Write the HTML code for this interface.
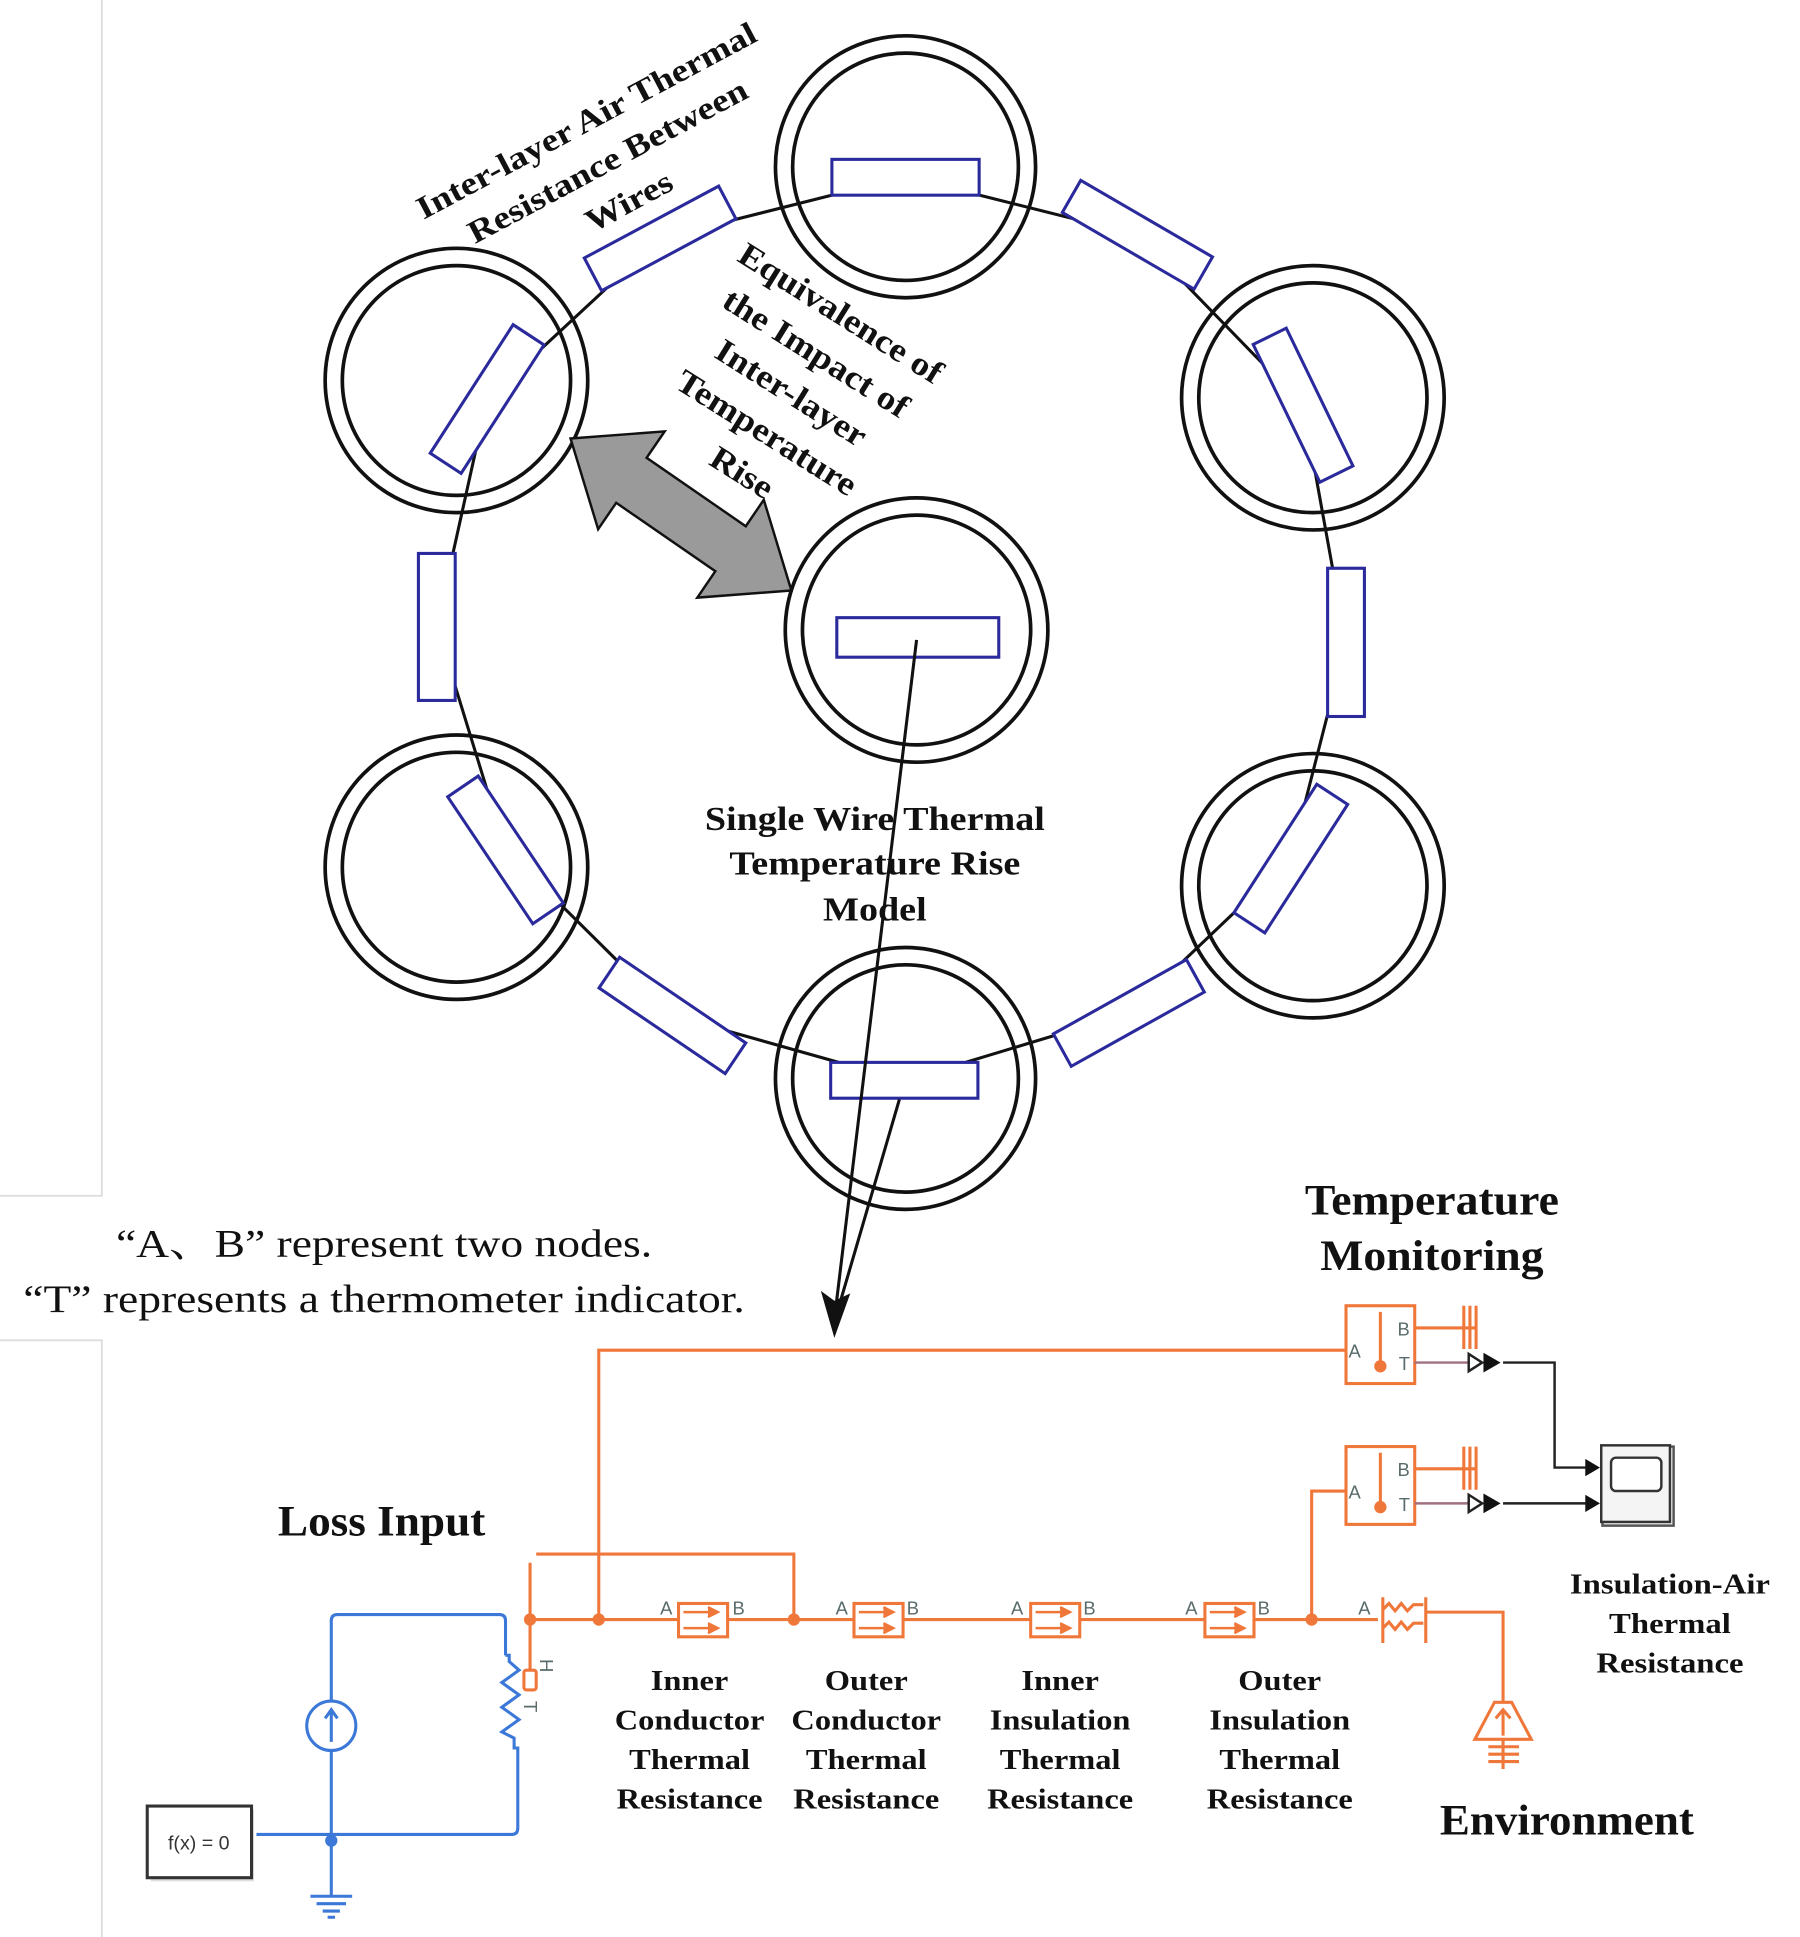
<!DOCTYPE html>
<html><head><meta charset="utf-8"><style>
html,body{margin:0;padding:0;background:#fff;}
svg{display:block;}
.b{font-family:"Liberation Serif",serif;font-weight:bold;fill:#111;}
.n{font-family:"Liberation Serif","Noto Serif CJK SC",serif;fill:#111;}
.s{font-family:"Liberation Sans",sans-serif;fill:#5a6b6b;font-size:15px;}
</style></head><body>
<svg width="1800" height="1937" viewBox="0 0 1467 1568" preserveAspectRatio="none" xmlns="http://www.w3.org/2000/svg">
<rect width="1467" height="1568" fill="#fff"/>
<g stroke="#ddd" stroke-width="1.5" fill="none">
<path d="M83 0V968H0"/><path d="M0 1085H83V1568"/>
</g>
<polygon points="738,143 538,193 397,323 356,507 412,688 548,822 737,875 920,820 1052,695 1097,520 1062,328 927,190" fill="none" stroke="#111" stroke-width="2.5"/>
<g fill="none" stroke="#111" stroke-width="3">
<circle cx="738" cy="135" r="106"/><circle cx="738" cy="135" r="92"/>
<circle cx="372" cy="308" r="107"/><circle cx="372" cy="308" r="93"/>
<circle cx="1070" cy="322" r="107"/><circle cx="1070" cy="322" r="93"/>
<circle cx="747" cy="510" r="107"/><circle cx="747" cy="510" r="93"/>
<circle cx="372" cy="702" r="107"/><circle cx="372" cy="702" r="93"/>
<circle cx="1070" cy="717" r="107"/><circle cx="1070" cy="717" r="93"/>
<circle cx="738" cy="873" r="106"/><circle cx="738" cy="873" r="92"/>
</g>
<g fill="#fff" stroke="#2a2a9c" stroke-width="2.5">
<rect x="678" y="129" width="120" height="29"/>
<rect x="-62" y="-15" width="124" height="30" transform="translate(538,193) rotate(-28)"/>
<rect x="-62" y="-15" width="124" height="30" transform="translate(397,323) rotate(-57)"/>
<rect x="341" y="448" width="30" height="119"/>
<rect x="-62" y="-15" width="124" height="30" transform="translate(412,688) rotate(56)"/>
<rect x="-62" y="-15" width="124" height="30" transform="translate(548,822) rotate(34)"/>
<rect x="677" y="860" width="120" height="29"/>
<rect x="-62" y="-15" width="124" height="30" transform="translate(920,820) rotate(-29)"/>
<rect x="-62" y="-15" width="124" height="30" transform="translate(1052,695) rotate(-57)"/>
<rect x="1082" y="460" width="30" height="120"/>
<rect x="-62" y="-15" width="124" height="30" transform="translate(1062,328) rotate(64)"/>
<rect x="-62" y="-15" width="124" height="30" transform="translate(927,190) rotate(30)"/>
<rect x="682" y="500" width="132" height="32"/>
</g>
<polygon points="465,355 541.7,349.2 527,370.6 607.8,426 622.5,404.6 645,478 568.3,483.8 583,462.4 502.2,407 487.5,428.4" fill="#9a9a9a" stroke="#111" stroke-width="2"/>
<g class="b" font-size="26" text-anchor="middle" transform="translate(495,130) rotate(-28) scale(1.17,1)">
<text x="0" y="-28">Inter-layer Air Thermal</text>
<text x="0" y="9">Resistance Between</text>
<text x="0" y="46">Wires</text>
</g>
<g class="b" font-size="27" text-anchor="middle" transform="translate(645,318) rotate(32) scale(1.12,1)">
<text x="0" y="-67">Equivalence of</text>
<text x="0" y="-29">the Impact of</text>
<text x="0" y="9">Inter-layer</text>
<text x="0" y="47">Temperature</text>
<text x="0" y="85">Rise</text>
</g>
<g stroke="#111" stroke-width="2.5" fill="none">
<line x1="747" y1="518" x2="681" y2="1060"/>
<line x1="733" y1="890" x2="683" y2="1060"/>
</g>
<polygon points="680,1083 669,1045 680,1053 693,1047" fill="#111"/>
<g class="b" font-size="27" text-anchor="middle" transform="translate(713,0) scale(1.15,1)">
<text x="0" y="672">Single Wire Thermal</text>
<text x="0" y="708">Temperature Rise</text>
<text x="0" y="745">Model</text>
</g>
<g class="n" font-size="32" text-anchor="middle">
<text x="313" y="1017" textLength="437" lengthAdjust="spacingAndGlyphs">“A、B” represent two nodes.</text>
<text x="313" y="1062" textLength="588" lengthAdjust="spacingAndGlyphs">“T” represents a thermometer indicator.</text>
</g>
<g class="b" font-size="35" text-anchor="middle">
<text x="1167" y="983" textLength="207" lengthAdjust="spacingAndGlyphs">Temperature</text>
<text x="1167" y="1028" textLength="182" lengthAdjust="spacingAndGlyphs">Monitoring</text>
<text x="311" y="1243" textLength="169" lengthAdjust="spacingAndGlyphs">Loss Input</text>
<text x="1277" y="1485" textLength="207" lengthAdjust="spacingAndGlyphs">Environment</text>
</g>
<g class="b" font-size="23" text-anchor="middle">
<g transform="translate(562,0) scale(1.15,1)"><text y="1368">Inner</text><text y="1400">Conductor</text><text y="1432">Thermal</text><text y="1464">Resistance</text></g>
<g transform="translate(706,0) scale(1.15,1)"><text y="1368">Outer</text><text y="1400">Conductor</text><text y="1432">Thermal</text><text y="1464">Resistance</text></g>
<g transform="translate(864,0) scale(1.15,1)"><text y="1368">Inner</text><text y="1400">Insulation</text><text y="1432">Thermal</text><text y="1464">Resistance</text></g>
<g transform="translate(1043,0) scale(1.15,1)"><text y="1368">Outer</text><text y="1400">Insulation</text><text y="1432">Thermal</text><text y="1464">Resistance</text></g>
<g transform="translate(1361,0) scale(1.16,1)"><text y="1290">Insulation-Air</text><text y="1322">Thermal</text><text y="1354">Resistance</text></g>
</g>
<g stroke="#f0773a" stroke-width="2.5" fill="none">
<line x1="432" y1="1311" x2="1123" y2="1311"/>
<path d="M488 1311V1093H1097"/>
<path d="M437 1258H647V1311"/>
<line x1="432" y1="1265" x2="432" y2="1352"/>
<path d="M1069 1311V1207H1097"/>
<path d="M1163 1305H1225V1378"/>
<rect x="1097" y="1057" width="56" height="63"/>
<rect x="1097" y="1171" width="56" height="63"/>
<path d="M1153 1075H1203M1193 1057V1092M1198 1057V1092M1203 1057V1092"/>
<path d="M1153 1189H1203M1193 1171V1206M1198 1171V1206M1203 1171V1206"/>
<rect x="427" y="1352" width="10" height="16" rx="2"/>
</g>
<g fill="#fff" stroke="#f0773a" stroke-width="2.5">
<rect x="553" y="1298" width="40" height="27"/>
<rect x="696" y="1298" width="40" height="27"/>
<rect x="840" y="1298" width="40" height="27"/>
<rect x="982" y="1298" width="40" height="27"/>
</g>
<g stroke="#f0773a" stroke-width="2" fill="#f0773a">
<path d="M557 1305H585M577 1301L585 1305L577 1309M557 1318H585M577 1314L585 1318L577 1322"/>
<path d="M700 1305H728M720 1301L728 1305L720 1309M700 1318H728M720 1314L728 1318L720 1322"/>
<path d="M844 1305H872M864 1301L872 1305L864 1309M844 1318H872M864 1314L872 1318L864 1322"/>
<path d="M986 1305H1014M1006 1301L1014 1305L1006 1309M986 1318H1014M1006 1314L1014 1318L1006 1322"/>
</g>
<g stroke="#f0773a" stroke-width="2.5" fill="none">
<path d="M1127 1293V1330M1162 1293V1330"/>
<path d="M1127 1303l5-5 5 6 5-6 5 6 5-5 8 0M1127 1318l5-5 5 6 5-6 5 6 5-5 8 0"/>
<path d="M1125 1062V1105M1125 1176V1219"/>
<path d="M1218 1378h14l16 30h-46z"/>
<path d="M1225 1405v-20M1219 1391l6-7 6 7"/>
<path d="M1213 1414h25M1213 1420h25M1213 1426h25M1225 1408v24"/>
</g>
<g fill="#f0773a">
<circle cx="432" cy="1311" r="5"/><circle cx="488" cy="1311" r="5"/><circle cx="647" cy="1311" r="5"/><circle cx="1069" cy="1311" r="5"/>
<circle cx="1125" cy="1106" r="5"/><circle cx="1125" cy="1220" r="5"/>
</g>
<g class="s">
<text x="538" y="1307">A</text><text x="597" y="1307">B</text>
<text x="681" y="1307">A</text><text x="739" y="1307">B</text>
<text x="824" y="1307">A</text><text x="883" y="1307">B</text>
<text x="966" y="1307">A</text><text x="1025" y="1307">B</text>
<text x="1107" y="1307">A</text>
<text x="1099" y="1099">A</text><text x="1139" y="1081">B</text><text x="1140" y="1109">T</text>
<text x="1099" y="1213">A</text><text x="1139" y="1195">B</text><text x="1140" y="1223">T</text>
<text x="0" y="0" transform="translate(440,1343) rotate(90)">H</text>
<text x="0" y="0" transform="translate(427,1377) rotate(90)">T</text>
</g>
<g stroke="#a07080" stroke-width="2"><line x1="1153" y1="1103" x2="1197" y2="1103"/><line x1="1153" y1="1217" x2="1197" y2="1217"/></g>
<g stroke="#222" stroke-width="2" fill="none">
<path d="M1197 1096l11 7-11 7z"/><path d="M1197 1210l11 7-11 7z"/>
<path d="M1225 1103H1267V1188H1300"/><path d="M1225 1217H1300"/>
</g>
<g fill="#111">
<path d="M1209 1095l14 8-14 8z"/><path d="M1209 1209l14 8-14 8z"/>
<path d="M1292 1181l12 7-12 7z"/><path d="M1292 1210l12 7-12 7z"/>
</g>
<rect x="1306" y="1171" width="58" height="64" fill="#eee" stroke="#555" stroke-width="2"/>
<rect x="1305" y="1170" width="56" height="62" fill="#f4f4f4" stroke="#333" stroke-width="2"/>
<rect x="1313" y="1180" width="41" height="27" rx="4" fill="#fff" stroke="#333" stroke-width="2"/>
<g stroke="#3b78d8" stroke-width="2.5" fill="none">
<path d="M270 1377V1312q0-5 5-5H407q5 0 5 5V1340"/>
<path d="M412 1340h3l0 5l8 7-14 10 14 10-14 10 14 10-14 10 10 5v8h3v65q0 5-5 5H209"/>
<path d="M270 1417V1535"/>
<circle cx="270" cy="1397" r="20"/>
<path d="M270 1410V1385M265 1391l5-7 5 7"/>
<path d="M253 1535h34M258 1541h24M263 1547h14M267 1552h6"/>
</g>
<circle cx="270" cy="1490" r="5" fill="#3b78d8"/>
<rect x="123" y="1465" width="84" height="58" fill="#ccc" opacity="0.6"/>
<rect x="120" y="1462" width="85" height="58" fill="#fff" stroke="#333" stroke-width="2.5"/>
<text x="162" y="1497" text-anchor="middle" font-family="Liberation Sans,sans-serif" font-size="16" fill="#333">f(x) = 0</text>
</svg>
</body></html>
